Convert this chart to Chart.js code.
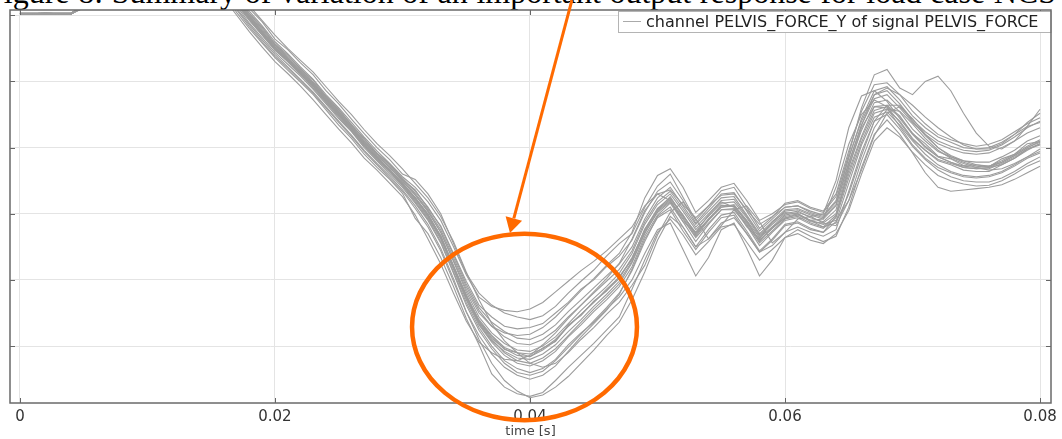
<!DOCTYPE html>
<html>
<head>
<meta charset="utf-8">
<script src="https://cdn.jsdelivr.net/npm/chart.js@4.4.1/dist/chart.umd.min.js"></script>
<style>
  html, body { margin: 0; padding: 0; background: #fff; overflow: hidden; }
  #wrap { position: relative; width: 1062px; height: 439px; }
  #caption {
    position: absolute; top: -24px; left: -14px; width: 1070px;
    font: 32px/32px "Liberation Serif", "Times New Roman", serif; color: #000;
    white-space: nowrap; text-align: justify; text-align-last: justify;
  }
  canvas { position: absolute; left: 0; top: 0; }
</style>
</head>
<body>
<div id="wrap">
  <div id="caption">Figure 8: Summary of variation of an important output response for load case NCS</div>
  <canvas id="chart" width="1062" height="439"></canvas>
</div>
<script>
// time axis [s]
const time = [0, 0.002, 0.004, 0.006, 0.008, 0.010, 0.012, 0.014, 0.015, 0.016,
  0.017, 0.018, 0.019, 0.020, 0.021, 0.022, 0.023, 0.024, 0.025, 0.026, 0.027, 0.028, 0.029, 0.030,
  0.031, 0.032, 0.033, 0.034, 0.035, 0.036,
  0.037, 0.038, 0.039, 0.040, 0.041, 0.042, 0.043, 0.044, 0.045, 0.046, 0.047,
  0.048, 0.049, 0.050, 0.051, 0.052, 0.053, 0.054, 0.055, 0.056, 0.057, 0.058, 0.059, 0.060, 0.061, 0.062, 0.063, 0.064,
  0.065, 0.066, 0.067, 0.068,
  0.069, 0.070, 0.071, 0.072, 0.073, 0.074, 0.075, 0.076, 0.077, 0.078, 0.079, 0.080];

// PELVIS_FORCE_Y, one array per simulation run (y labels are cropped off in the figure)
const run01 = [5.02,5.03,5.02,5.24,5.56,5.79,5.91,5.74,5.57,5.41,
  5.21,4.96,4.72,4.51,4.33,4.12,3.95,3.71,3.52,3.28,3.06,2.84,2.67,2.45,
  2.25,1.97,1.67,1.20,0.78,0.37,
  0.15,-0.05,-0.10,-0.16,-0.03,0.07,0.32,0.46,0.68,0.83,1.05,
  1.31,1.77,2.06,2.26,1.96,1.72,1.91,2.13,2.11,1.89,1.58,1.80,1.93,2.00,1.88,1.86,2.00,
  2.65,3.17,3.62,3.64,
  3.48,3.21,3.06,2.87,2.83,2.73,2.74,2.71,2.83,2.90,3.06,3.09];
const run02 = [5.03,5.03,5.03,5.28,5.58,5.82,5.93,5.79,5.63,5.49,
  5.36,5.10,4.90,4.64,4.48,4.28,4.10,3.86,3.66,3.43,3.21,3.00,2.82,2.60,
  2.52,2.30,2.00,1.55,1.10,0.80,
  0.62,0.50,0.44,0.40,0.46,0.60,0.80,0.98,1.15,1.36,1.55,
  1.70,2.10,2.42,2.60,2.25,1.90,2.12,2.35,2.40,2.10,1.78,1.95,2.16,2.20,2.10,2.04,2.30,
  2.95,3.55,3.95,3.98,
  3.80,3.55,3.36,3.20,3.12,3.06,3.02,3.05,3.12,3.24,3.36,3.45];
const run03 = [5.02,5.02,5.02,5.22,5.52,5.78,5.88,5.70,5.52,5.35,
  5.04,4.80,4.58,4.36,4.17,3.99,3.80,3.57,3.34,3.14,2.90,2.70,2.52,2.31,
  1.93,1.70,1.34,0.90,0.42,0.02,
  -0.42,-0.62,-0.72,-0.76,-0.70,-0.52,-0.32,-0.14,0.04,0.24,0.44,
  0.86,1.30,1.72,1.92,1.68,1.38,1.58,1.80,1.84,1.57,1.30,1.46,1.64,1.70,1.60,1.55,1.70,
  2.05,2.60,3.10,3.30,
  3.16,2.93,2.74,2.58,2.50,2.45,2.42,2.43,2.50,2.60,2.72,2.80];
const run04 = [5.02,5.02,5.02,5.20,5.50,5.74,5.84,5.66,5.46,5.26,
  5.00,4.75,4.52,4.30,4.12,3.93,3.72,3.50,3.28,3.07,2.84,2.66,2.46,2.26,
  1.98,1.62,1.24,0.80,0.38,0.06,
  -0.10,-0.20,-0.22,-0.14,0.02,0.20,0.42,0.62,0.82,1.02,1.25,
  1.62,2.05,2.30,2.20,1.88,1.72,1.98,2.18,2.10,1.80,1.62,1.88,2.02,2.00,1.90,1.92,2.40,
  3.05,3.50,3.72,3.62,
  3.38,3.12,2.96,2.82,2.76,2.70,2.68,2.70,2.78,2.88,3.00,3.08];
const run05 = [5.03,5.03,5.03,5.30,5.62,5.86,5.96,5.84,5.70,5.56,
  5.38,5.14,4.92,4.70,4.50,4.32,4.14,3.92,3.70,3.50,3.27,3.06,2.88,2.68,
  2.46,2.24,1.96,1.58,1.12,0.70,
  0.34,0.08,-0.10,-0.26,-0.32,-0.26,-0.10,0.10,0.28,0.48,0.66,
  0.92,1.22,1.68,2.02,2.18,1.92,1.62,1.82,2.06,2.12,1.88,1.56,1.72,1.92,1.96,1.86,1.82,
  2.20,2.80,3.30,3.58,
  3.55,3.36,3.14,2.96,2.84,2.76,2.70,2.66,2.68,2.76,2.86,2.98];
const run06 = [5.02,5.03,5.02,5.26,5.57,5.81,5.92,5.76,5.60,5.44,
  5.24,4.98,4.76,4.52,4.34,4.16,3.97,3.74,3.53,3.31,3.08,2.88,2.70,2.50,
  2.28,2.04,1.72,1.30,0.86,0.50,
  0.30,0.20,0.16,0.18,0.28,0.44,0.64,0.84,1.02,1.22,1.40,
  1.72,2.24,2.58,2.68,2.40,2.02,2.20,2.40,2.46,2.20,1.90,2.00,2.14,2.18,2.08,2.02,2.26,
  2.90,3.60,4.10,4.18,
  3.90,3.80,4.00,4.08,3.86,3.52,3.22,3.02,2.98,3.10,3.32,3.58];
const run07 = [5.02,5.03,5.02,5.24,5.54,5.79,5.90,5.73,5.55,5.39,
  5.16,4.92,4.70,4.47,4.30,4.11,3.90,3.68,3.46,3.25,3.02,2.82,2.63,2.42,
  2.18,1.92,1.58,1.12,0.66,0.28,
  0.00,-0.22,-0.34,-0.40,-0.34,-0.20,0.02,0.20,0.36,0.56,0.74,
  1.00,1.40,1.76,1.86,1.46,1.06,1.34,1.76,1.86,1.48,1.06,1.30,1.64,1.76,1.66,1.58,1.66,
  2.10,2.70,3.20,3.42,
  3.20,2.92,2.62,2.40,2.34,2.36,2.38,2.40,2.44,2.52,2.62,2.72];
const run08 = [5.02,5.03,5.03,5.27,5.57,5.81,5.91,5.77,5.61,5.46,
  5.26,5.02,4.80,4.56,4.38,4.20,3.99,3.78,3.57,3.35,3.12,2.92,2.74,2.54,
  2.34,2.10,1.80,1.38,0.94,0.58,
  0.36,0.22,0.12,0.10,0.18,0.32,0.52,0.70,0.88,1.06,1.24,
  1.50,1.92,2.24,2.40,2.12,1.84,2.04,2.24,2.26,1.98,1.70,1.88,2.06,2.08,2.00,1.94,2.14,
  2.78,3.34,3.74,3.80,
  3.60,3.38,3.20,3.06,2.98,2.92,2.90,2.92,3.00,3.10,3.22,3.30];
const run09 = [5.02,5.02,5.02,5.23,5.53,5.78,5.89,5.72,5.54,5.38,
  5.14,4.88,4.66,4.44,4.26,4.08,3.88,3.66,3.44,3.24,3.00,2.80,2.60,2.40,
  2.16,1.90,1.56,1.10,0.62,0.24,
  -0.04,-0.26,-0.40,-0.44,-0.38,-0.22,-0.02,0.18,0.38,0.58,0.80,
  1.14,1.58,1.96,2.10,1.80,1.50,1.76,1.98,2.02,1.74,1.44,1.62,1.84,1.88,1.78,1.72,1.88,
  2.46,3.04,3.46,3.54,
  3.34,3.10,2.90,2.74,2.64,2.58,2.56,2.58,2.64,2.74,2.86,2.94];
const run10 = [5.03,5.03,5.02,5.25,5.55,5.80,5.90,5.75,5.58,5.42,
  5.20,4.95,4.74,4.50,4.31,4.15,3.95,3.72,3.50,3.30,3.05,2.86,2.66,2.47,
  2.24,1.99,1.64,1.20,0.74,0.36,
  0.10,-0.10,-0.22,-0.26,-0.18,-0.04,0.16,0.36,0.56,0.74,0.94,
  1.26,1.70,2.04,2.20,1.94,1.66,1.90,2.10,2.14,1.90,1.64,1.80,1.98,2.02,1.96,2.00,2.50,
  3.30,3.78,3.86,3.70,
  3.44,3.20,3.00,2.86,2.78,2.72,2.70,2.72,2.80,2.90,3.02,3.12];
const run11 = [5.02,5.03,5.02,5.25,5.56,5.80,5.91,5.76,5.59,5.43,
  5.22,4.97,4.74,4.52,4.33,4.14,3.93,3.73,3.51,3.29,3.06,2.86,2.66,2.46,
  2.24,2.00,1.66,1.22,0.76,0.40,
  0.16,-0.02,-0.10,-0.12,-0.04,0.10,0.30,0.48,0.66,0.84,1.02,
  1.34,1.74,2.06,2.22,1.98,1.68,1.92,2.10,2.12,1.86,1.60,1.78,1.94,1.98,1.90,1.84,1.90,
  2.20,2.66,3.18,3.52,
  3.62,3.44,3.20,3.00,2.86,2.78,2.72,2.70,2.74,2.84,2.96,3.06];
const run12 = [5.03,5.03,5.03,5.27,5.58,5.82,5.92,5.78,5.62,5.47,
  5.30,5.06,4.84,4.60,4.42,4.22,4.03,3.80,3.60,3.38,3.16,2.95,2.76,2.56,
  2.40,2.18,1.90,1.50,1.08,0.74,
  0.60,0.54,0.52,0.56,0.66,0.82,0.98,1.14,1.28,1.44,1.62,
  1.80,2.12,2.30,2.36,2.14,1.94,2.12,2.28,2.30,2.06,1.84,1.96,2.10,2.12,2.04,1.98,2.20,
  2.86,3.40,3.80,3.86,
  3.66,3.42,3.24,3.10,3.02,2.96,2.94,2.96,3.04,3.16,3.30,3.40];
const run13 = [5.02,5.03,5.02,5.26,5.57,5.80,5.90,5.76,5.60,5.45,
  5.25,4.99,4.75,4.54,4.35,4.16,3.96,3.75,3.54,3.31,3.09,2.88,2.70,2.49,
  2.29,2.03,1.72,1.28,0.82,0.44,
  0.20,0.04,-0.06,-0.08,0.00,0.14,0.34,0.54,0.72,0.90,1.10,
  1.40,1.84,2.14,2.30,2.04,1.76,1.96,2.16,2.18,1.94,1.66,1.84,2.00,2.04,1.94,1.88,2.06,
  2.72,3.26,3.68,3.72,
  3.54,3.28,3.10,2.94,2.86,2.80,2.78,2.78,2.86,2.96,3.10,3.18];
const run14 = [5.02,5.02,5.02,5.23,5.54,5.78,5.89,5.73,5.56,5.39,
  5.18,4.93,4.70,4.48,4.30,4.10,3.92,3.69,3.48,3.26,3.03,2.82,2.64,2.43,
  2.20,1.94,1.62,1.16,0.70,0.32,
  0.06,-0.14,-0.26,-0.30,-0.22,-0.08,0.14,0.32,0.52,0.70,0.90,
  1.20,1.66,1.98,2.16,1.88,1.58,1.84,2.06,2.06,1.82,1.52,1.72,1.90,1.94,1.84,1.78,1.94,
  2.54,3.08,3.52,3.58,
  3.40,3.14,2.96,2.80,2.74,2.66,2.64,2.64,2.74,2.84,2.98,3.04];
const run15 = [5.03,5.03,5.03,5.27,5.58,5.82,5.92,5.78,5.62,5.47,
  5.29,5.03,4.82,4.57,4.40,4.19,4.02,3.77,3.58,3.34,3.14,2.91,2.75,2.52,
  2.36,2.08,1.82,1.40,0.98,0.62,
  0.44,0.30,0.26,0.28,0.34,0.50,0.66,0.86,1.00,1.20,1.36,
  1.60,2.02,2.34,2.48,2.20,1.86,2.08,2.30,2.32,2.04,1.74,1.92,2.10,2.12,2.02,1.96,2.18,
  2.84,3.44,3.86,3.92,
  3.72,3.48,3.30,3.16,3.08,3.00,2.98,3.00,3.08,3.20,3.32,3.38];
const run16 = [5.02,5.02,5.02,5.21,5.51,5.76,5.86,5.69,5.50,5.32,
  5.08,4.83,4.60,4.38,4.20,4.01,3.82,3.60,3.38,3.17,2.94,2.74,2.54,2.34,
  2.08,1.80,1.44,0.98,0.52,0.16,
  -0.12,-0.32,-0.44,-0.50,-0.44,-0.30,-0.08,0.14,0.34,0.54,0.78,
  1.16,1.62,1.94,2.06,1.74,1.46,1.72,1.94,1.98,1.70,1.42,1.60,1.82,1.86,1.76,1.72,1.96,
  2.70,3.30,3.62,3.60,
  3.32,3.04,2.84,2.70,2.62,2.56,2.54,2.56,2.62,2.72,2.84,2.92];
const run17 = [5.02,5.03,5.02,5.25,5.55,5.79,5.90,5.75,5.58,5.41,
  5.20,4.96,4.73,4.50,4.32,4.13,3.94,3.72,3.51,3.29,3.05,2.85,2.67,2.45,
  2.23,1.98,1.66,1.21,0.76,0.38,
  0.12,-0.04,-0.14,-0.16,-0.06,0.08,0.30,0.48,0.66,0.86,1.04,
  1.32,1.76,2.08,2.24,1.98,1.70,1.92,2.12,2.12,1.88,1.60,1.78,1.96,2.00,1.90,1.80,1.86,
  2.30,2.88,3.40,3.64,
  3.64,3.40,3.18,3.00,2.88,2.80,2.74,2.72,2.78,2.88,3.00,3.10];
const run18 = [5.02,5.02,5.02,5.22,5.52,5.77,5.87,5.70,5.52,5.34,
  5.10,4.86,4.63,4.41,4.22,4.03,3.84,3.62,3.40,3.19,2.96,2.76,2.57,2.36,
  2.12,1.84,1.48,1.02,0.52,0.10,
  -0.26,-0.52,-0.68,-0.78,-0.74,-0.62,-0.46,-0.26,-0.06,0.16,0.36,
  0.70,1.12,1.60,1.96,1.80,1.50,1.62,1.86,1.94,1.70,1.42,1.52,1.72,1.80,1.72,1.66,1.76,
  2.34,2.94,3.40,3.50,
  3.28,3.02,2.82,2.66,2.56,2.50,2.48,2.48,2.54,2.64,2.76,2.86];
const run19 = [5.02,5.03,5.03,5.26,5.57,5.81,5.91,5.77,5.61,5.45,
  5.24,5.00,4.78,4.55,4.36,4.18,3.98,3.76,3.55,3.33,3.10,2.90,2.72,2.52,
  2.31,2.06,1.76,1.34,0.90,0.54,
  0.30,0.14,0.04,0.02,0.10,0.24,0.44,0.62,0.80,0.98,1.16,
  1.44,1.88,2.18,2.34,2.08,1.80,2.00,2.20,2.22,1.96,1.68,1.86,2.04,2.06,1.98,1.92,2.12,
  2.76,3.34,3.80,3.90,
  3.80,3.64,3.46,3.30,3.16,3.04,2.98,2.98,3.06,3.20,3.38,3.52];
const run20 = [5.02,5.03,5.02,5.24,5.55,5.79,5.90,5.74,5.57,5.40,
  5.19,4.94,4.71,4.49,4.31,4.12,3.93,3.70,3.49,3.27,3.04,2.84,2.65,2.44,
  2.22,1.96,1.63,1.18,0.72,0.34,
  0.08,-0.08,-0.18,-0.20,-0.12,0.02,0.22,0.40,0.60,0.78,0.98,
  1.28,1.72,2.02,2.18,1.92,1.64,1.86,2.06,2.08,1.84,1.56,1.74,1.92,1.96,1.86,1.80,1.98,
  2.60,3.14,3.56,3.62,
  3.46,3.22,3.02,2.86,2.78,2.70,2.68,2.68,2.76,2.86,2.98,3.06];

const runs = [run01, run02, run03, run04, run05, run06, run07, run08, run09, run10,
  run11, run12, run13, run14, run15, run16, run17, run18, run19, run20];
const legendLabel = 'channel PELVIS_FORCE_Y of signal PELVIS_FORCE';
const xTicks = [0, 0.02, 0.04, 0.06, 0.08];
const xTickLabels = ['0', '0.02', '0.04', '0.06', '0.08'];
const yTicks = [0, 1, 2, 3, 4, 5];
const xTitle = 'time [s]';

// orange hand-drawn annotation, in data units
const markEllipse = { t: 0.03957, v: 0.29, rt: 0.00882, rv: 1.41 };
const markArrow = { t0: 0.04329, v0: 5.23, t1: 0.03843, v1: 1.71 };

const GREY = '#9c9c9c';
const ORANGE = '#ff6a00';

const frame = {
  id: 'frame',
  afterDraw(chart) {
    const c = chart.ctx, a = chart.chartArea;
    const x = chart.scales.x, y = chart.scales.y;
    c.save();
    // inward tick marks on all four sides
    c.strokeStyle = '#666';
    c.lineWidth = 1;
    c.beginPath();
    xTicks.forEach(v => {
      const px = Math.round(x.getPixelForValue(v)) + 0.5;
      c.moveTo(px, a.bottom); c.lineTo(px, a.bottom - 5);
      c.moveTo(px, a.top); c.lineTo(px, a.top + 5);
    });
    yTicks.forEach(v => {
      const py = Math.round(y.getPixelForValue(v)) + 0.5;
      c.moveTo(a.left, py); c.lineTo(a.left + 5, py);
      c.moveTo(a.right, py); c.lineTo(a.right - 5, py);
    });
    c.stroke();

    // legend box
    const lx = 618.5, ly = a.top + 1.5, lw = a.right - 618.5, lh = 21;
    c.fillStyle = '#fff';
    c.fillRect(lx, ly, lw, lh);
    c.strokeStyle = '#b4b4b4';
    c.strokeRect(lx, ly, lw, lh);
    c.strokeStyle = '#aaa';
    c.beginPath(); c.moveTo(623, ly + 10); c.lineTo(641, ly + 10); c.stroke();
    c.fillStyle = '#222';
    c.font = '16px "DejaVu Sans"';
    c.textBaseline = 'middle';
    c.fillText(legendLabel, 646, ly + 11);

    // plot frame
    c.strokeStyle = '#6a6a6a';
    c.lineWidth = 1.5;
    c.strokeRect(a.left, a.top, a.right - a.left, a.bottom - a.top);

    // annotation: ellipse + arrow
    c.strokeStyle = ORANGE;
    c.fillStyle = ORANGE;
    c.lineWidth = 4.5;
    const ex = x.getPixelForValue(markEllipse.t), ey = y.getPixelForValue(markEllipse.v);
    const erx = x.getPixelForValue(markEllipse.t + markEllipse.rt) - ex;
    const ery = ey - y.getPixelForValue(markEllipse.v + markEllipse.rv);
    c.beginPath();
    c.ellipse(ex, ey, erx, ery, 0, 0, Math.PI * 2);
    c.stroke();

    const x0 = x.getPixelForValue(markArrow.t0), y0 = y.getPixelForValue(markArrow.v0);
    const x1 = x.getPixelForValue(markArrow.t1), y1 = y.getPixelForValue(markArrow.v1);
    const ang = Math.atan2(y1 - y0, x1 - x0);
    const headLen = 15, headW = 8.5;
    const bx = x1 - headLen * Math.cos(ang), by = y1 - headLen * Math.sin(ang);
    c.lineWidth = 3;
    c.beginPath(); c.moveTo(x0, y0); c.lineTo(bx, by); c.stroke();
    c.beginPath();
    c.moveTo(x1, y1);
    c.lineTo(bx + headW * Math.sin(ang), by - headW * Math.cos(ang));
    c.lineTo(bx - headW * Math.sin(ang), by + headW * Math.cos(ang));
    c.closePath();
    c.fill();
    c.restore();
  }
};

const datasets = runs.map((vals, i) => ({
  label: i === 0 ? legendLabel : '',
  data: time.map((t, k) => ({ x: t, y: vals[k] })),
  borderColor: GREY,
  borderWidth: 1.1,
  pointRadius: 0,
  tension: 0,
  fill: false
}));

new Chart(document.getElementById('chart').getContext('2d'), {
  type: 'line',
  data: { datasets },
  options: {
    responsive: false,
    animation: false,
    layout: { padding: { left: 10, right: 11, top: 10, bottom: 0 } },
    plugins: { legend: { display: false }, tooltip: { enabled: false } },
    scales: {
      x: {
        type: 'linear',
        min: -0.00078, max: 0.08086,
        afterBuildTicks: s => { s.ticks = xTicks.map(v => ({ value: v })); },
        afterFit: s => { s.height = 36; },
        grid: { color: '#e4e4e4', drawTicks: false },
        border: { display: false },
        ticks: {
          padding: 5,
          color: '#333',
          font: { family: 'DejaVu Sans', size: 15 },
          maxRotation: 0,
          callback: (v, i) => xTickLabels[i]
        },
        title: {
          display: true, text: xTitle, color: '#444',
          font: { family: 'DejaVu Sans', size: 13 },
          padding: { top: 0, bottom: 0 }
        }
      },
      y: {
        min: -0.86, max: 5.08,
        afterBuildTicks: s => { s.ticks = yTicks.map(v => ({ value: v })); },
        afterFit: s => { s.width = 0; },
        grid: { color: '#e4e4e4', drawTicks: false },
        border: { display: false },
        ticks: { display: false }
      }
    }
  },
  plugins: [frame]
});
</script>
</body>
</html>
